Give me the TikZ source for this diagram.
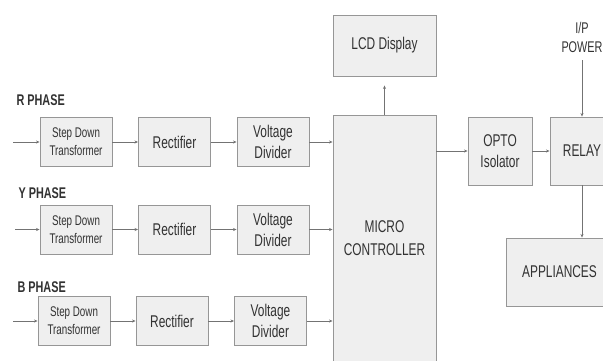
\documentclass[tikz,border=0pt]{standalone}
\usepackage{fontspec}
\setmainfont{Liberation Sans}[FakeStretch=0.7]
\usetikzlibrary{arrows.meta}
\definecolor{boxfill}{RGB}{239,239,239}
\definecolor{boxline}{RGB}{150,150,150}
\definecolor{txtgray}{RGB}{50,50,50}
\definecolor{wiregray}{RGB}{115,115,115}

\begin{document}
\begin{tikzpicture}[x=1pt, y=-1pt,
    block/.style={draw=boxline, fill=boxfill, line width=0.9pt, text=txtgray,
        align=center, inner sep=0pt, minimum width=72pt, minimum height=49pt,
        font=\fontsize{17}{21}\selectfont},
    smalltext/.style={font=\fontsize{14}{18}\selectfont},
    phase/.style={anchor=west, text=txtgray, font=\fontsize{15.5}{18}\selectfont\bfseries},
    wire/.style={draw=wiregray, line width=0.8pt, -{Stealth[length=3.5pt,width=3pt]}}]
    \clip (0,0) rectangle (603,360);
    % R phase
    \node[phase] (labR) at (13,100) {R PHASE};
    \coordinate (inR) at (13,142);
    \node[block, smalltext] (sdR) at (76,142) {Step Down\\Transformer};
    \node[block] (recR) at (174.5,142) {Rectifier};
    \node[block] (vdR) at (273,142) {Voltage\\Divider};
    % Y phase
    \node[phase] (labY) at (15,193) {Y PHASE};
    \coordinate (inY) at (15,229.5);
    \node[block, smalltext] (sdY) at (76,229.5) {Step Down\\Transformer};
    \node[block] (recY) at (174.5,229.5) {Rectifier};
    \node[block] (vdY) at (273,229.5) {Voltage\\Divider};
    % B phase
    \node[phase] (labB) at (14,287) {B PHASE};
    \coordinate (inB) at (13,321);
    \node[block, smalltext] (sdB) at (74,321) {Step Down\\Transformer};
    \node[block] (recB) at (172,321) {Rectifier};
    \node[block] (vdB) at (270.5,321) {Voltage\\Divider};
    % controller side
    \node[block, minimum width=103pt, minimum height=247pt,
        font=\fontsize{17}{23}\selectfont] (mc) at (384.5,238.5) {MICRO\\CONTROLLER};
    \node[block, minimum width=103pt, minimum height=61pt] (lcd) at (384.5,45.5) {LCD Display};
    \node[block, minimum width=64pt, minimum height=68pt] (opto) at (500,151) {OPTO\\Isolator};
    \node[block, minimum width=64pt, minimum height=68pt] (relay) at (582,151) {RELAY};
    \node[block, minimum width=107pt, minimum height=68pt] (app) at (559.5,272) {APPLIANCES};
    \node[text=txtgray, align=center, font=\fontsize{15.5}{19}\selectfont] (pwr) at (582,37.5) {I/P\\POWER};

    \draw[wire] (inR) -- (sdR);
    \draw[wire] (sdR) -- (recR);
    \draw[wire] (recR) -- (vdR);
    \draw[wire] (vdR.east) -- (vdR.east -| mc.west);
    \draw[wire] (inY) -- (sdY);
    \draw[wire] (sdY) -- (recY);
    \draw[wire] (recY) -- (vdY);
    \draw[wire] (vdY.east) -- (vdY.east -| mc.west);
    \draw[wire] (inB) -- (sdB);
    \draw[wire] (sdB) -- (recB);
    \draw[wire] (recB) -- (vdB);
    \draw[wire] (vdB.east) -- (vdB.east -| mc.west);
    \draw[wire, shorten >=9pt] (mc.north) -- (lcd.south);
    \draw[wire] (mc.east |- opto) -- (opto.west);
    \draw[wire] (opto) -- (relay);
    \draw[wire, shorten <=4pt] (pwr.south) -- (relay.north);
    \draw[wire] (relay.south) -- (relay.south |- app.north);
\end{tikzpicture}
\end{document}
